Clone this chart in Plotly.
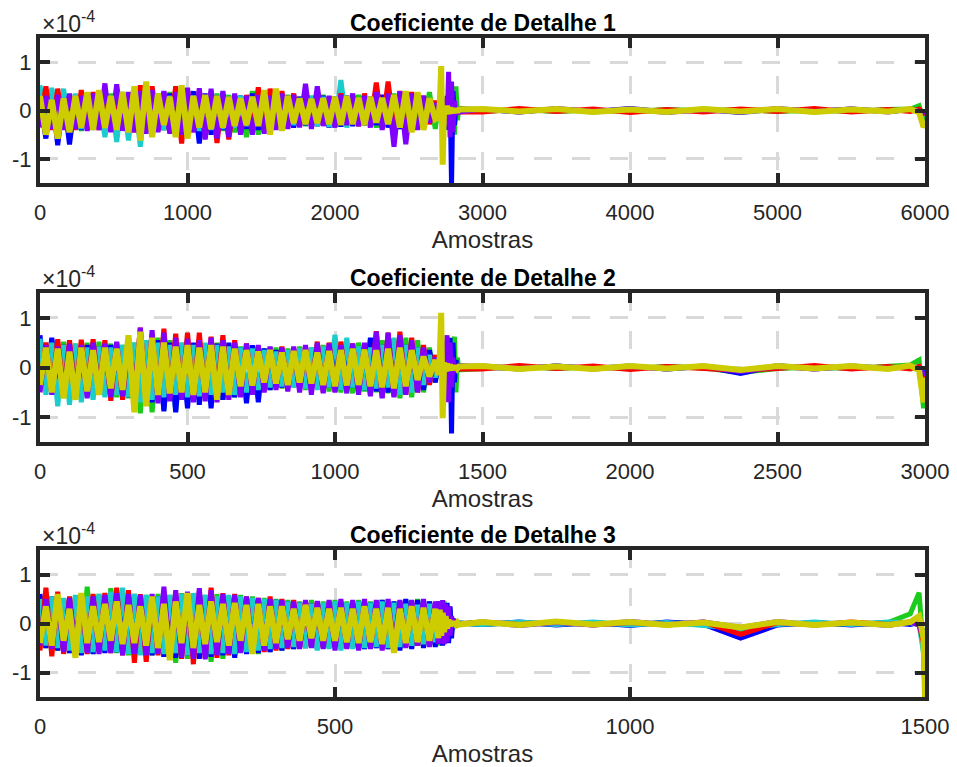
import numpy as np
import plotly.graph_objects as go

# ---------------- data (values in units of 1e-4, stored as hundredths) ----------------
# sample grid of each subplot: dense block, spike block, flat block, end block
GRID_STEPS_1 = dict(noise=(0, 40, 68), spike=(2700, 10, 15), flat=(3000, 250, 12), end=[5900, 5960, 5990, 6000])
GRID_STEPS_2 = dict(noise=(0, 20, 68), spike=(1350, 5, 15), flat=(1500, 125, 12), end=[2950, 2980, 2995, 3000])
GRID_STEPS_3 = dict(noise=(0, 10, 68), spike=(675, 2.5, 15), flat=(750, 62.5, 12), end=[1475, 1490, 1497.5, 1500])

X_RANGES = [6000, 3000, 1500]
X_TICKS = [[0, 1000, 2000, 3000, 4000, 5000, 6000],
           [0, 500, 1000, 1500, 2000, 2500, 3000],
           [0, 500, 1000, 1500]]
Y_TICKS = [-1, 0, 1]
TITLES = ["Coeficiente de Detalhe 1", "Coeficiente de Detalhe 2", "Coeficiente de Detalhe 3"]
X_LABEL = "Amostras"

# ---- Detail 1 ----
D1_BLUE = [20,-58,35,-72,30,-70,25,-40,30,-38,
           35,-42,28,-45,30,-40,35,-50,40,-45,
           30,-40,35,-50,30,-55,40,-68,35,-50,
           30,-40,28,-35,30,-38,35,-40,30,-35,
           25,-38,30,-35,28,-30,25,-32,30,-35,
           28,-33,30,-32,25,-30,28,-30,32,-35,
           30,-38,35,-40,30,-33,25,-20,
           10,-8,10,-10,15,-20,30,-40,45,-155,40,-30,8,-5,3,
           2,-3,3,-2,4,-3,2,-4,3,-2,3,-2,
           2,-3,-5,-3]
D1_RED = [-30,50,-40,45,-35,30,-40,42,-35,38,
          -40,35,-42,38,-40,30,-45,52,-40,50,
          -42,38,-45,50,-68,42,-45,40,-55,38,
          -67,35,-60,30,-50,32,-40,48,-38,45,
          -35,40,-30,35,-32,30,-28,32,-30,28,
          -30,35,-28,30,-32,35,-30,58,-35,60,
          -38,40,-42,38,-35,30,-28,20,
          -10,8,-12,15,-20,25,-30,35,-20,10,-8,6,-5,4,-3,
          -3,4,-2,3,-4,2,-3,3,-2,4,-3,2,
          -2,3,-6,-4]
D1_CYAN = [52,-30,47,-35,45,-40,35,-38,30,-40,
           35,-55,30,-65,32,-62,38,-75,40,-48,
           35,-40,30,-45,35,-40,30,-42,28,-40,
           30,-38,28,-35,30,-32,28,-30,32,-35,
           30,-35,28,-30,25,-28,30,-32,28,-30,
           -30,63,-35,30,-32,28,-30,25,-32,30,
           -30,28,-32,30,-25,22,-18,12,
           8,-6,5,-8,10,-12,15,-10,8,-6,5,-4,3,-3,2,
           2,-2,3,-3,2,-2,3,-2,2,-3,2,-2,
           2,-2,-8,-6]
D1_PURPLE = [-35,30,-38,32,-40,35,-38,30,-42,35,
             -40,56,-45,54,-42,38,-45,40,-48,42,
             -45,40,-48,38,-50,47,-45,46,-60,45,
             -58,40,-55,35,-50,30,-50,32,-48,30,
             -40,35,-38,32,-35,55,-38,50,-32,30,
             -35,32,-30,35,-32,30,-35,38,-40,35,
             -75,40,-70,35,-40,30,-25,15,
             -10,12,-15,18,-20,25,-30,80,-55,60,-45,20,-10,5,-3,
             3,-3,4,-2,3,-4,2,-3,4,-2,3,-3,
             3,-2,-6,-5]
D1_GREEN = [45,-35,38,-40,35,-38,30,-42,35,-38,
            32,-40,35,-42,38,-40,35,-45,38,-42,
            35,-40,38,-42,35,-40,32,-38,30,-40,
            35,-42,32,-45,30,-55,40,-50,35,-40,
            30,-35,32,-30,28,-32,30,-28,32,-30,
            28,-32,30,-28,32,-30,28,-35,30,-32,
            35,-38,32,-35,30,-32,38,-38,
            10,-10,12,-12,15,-18,20,-25,30,-35,40,-50,50,-20,5,
            -2,2,-2,1,-2,2,-1,2,-2,1,-2,2,
            3,10,-20,-10]
D1_YELLOW = [30,-50,22,-58,25,-45,30,-35,38,-40,
             42,-36,30,-40,38,-45,50,-62,60,-55,
             35,-30,28,-55,52,-58,30,-35,32,-38,
             30,-35,28,-32,25,-30,28,-32,42,-50,
             45,-42,30,-26,25,-28,24,-26,25,-28,
             28,-30,30,-28,26,-30,28,-25,26,-28,
             32,-35,40,-45,38,-40,25,-18,
             -15,12,92,-112,10,-8,10,-7,6,-5,4,-4,3,-3,2,
             3,-2,3,-3,2,-3,3,-2,3,-3,2,-2,
             3,-4,-34,-30]

# ---- Detail 2 ----
D2_BLUE = [65,-45,60,-50,45,-55,40,-50,45,-52,
           42,-55,45,-50,40,-60,45,-65,50,-70,
           55,-88,50,-90,45,-82,50,-75,45,-82,
           48,-65,50,-60,40,-72,45,-70,38,-45,
           35,-40,32,-38,35,-40,30,-38,32,-40,
           35,-42,38,-40,35,-45,60,-48,45,-50,
           42,-52,45,-48,40,-45,35,-30,
           10,-10,12,-15,20,-25,30,-40,60,-133,50,-30,15,-8,4,
           2,-3,3,-2,3,-3,2,-12,4,-3,2,-2,
           3,-4,-10,-6]
D2_RED = [-45,50,-48,57,-50,55,-52,56,-48,57,
          -50,55,-67,50,-65,52,-55,80,-60,65,
          -62,78,-60,68,-58,70,-62,70,-60,62,
          -55,65,-60,55,-50,48,-45,42,-40,40,
          -38,42,-40,38,-42,40,-45,52,-50,50,
          -48,52,-45,48,-50,45,-55,73,-60,70,
          -58,72,-55,60,-50,45,-35,25,
          -10,8,-12,15,-20,25,-30,35,-20,10,-8,6,-5,4,-3,
          -3,4,-2,3,-4,2,-3,-6,-2,4,-3,2,
          -3,2,-20,-10]
D2_CYAN = [58,-55,50,-78,45,-75,48,-70,40,-65,
           42,-60,40,-55,45,-60,50,-70,55,-65,
           50,-60,45,-55,50,-60,45,-58,50,-55,
           45,-50,42,-55,40,-50,38,-45,35,-40,
           32,-38,35,-40,38,-42,40,-45,42,-40,
           66,-45,60,-40,42,-45,40,-42,45,-40,
           60,-55,45,-50,40,-35,25,-20,
           8,-6,5,-8,10,-12,15,-10,8,-6,5,-4,3,-3,2,
           2,-3,3,-2,3,-3,2,-6,3,-2,3,-2,
           2,-3,-30,-15]
D2_PURPLE = [-50,45,-55,42,-60,48,-58,45,-62,50,
             -55,48,-60,52,-58,50,-65,80,-70,75,
             -72,70,-68,60,-65,58,-70,55,-68,60,
             -70,55,-65,50,-60,48,-55,45,-50,42,
             -45,40,-48,42,-50,45,-55,50,-52,48,
             -50,45,-52,48,-55,50,-58,72,-62,70,
             -60,65,-55,55,-50,40,-30,20,
             -10,12,-15,18,-20,25,65,-70,50,-40,20,-10,5,-3,2,
             3,-2,3,-3,2,-3,3,-8,2,-3,3,-2,
             3,-3,-15,-8]
D2_GREEN = [50,-45,55,-50,52,-55,48,-60,50,-58,
            52,-55,48,-60,45,-62,50,-92,55,-90,
            60,-85,55,-88,50,-70,45,-65,48,-60,
            50,-65,45,-60,42,-55,40,-50,38,-45,
            40,-42,38,-40,42,-45,40,-42,45,-48,
            48,-50,45,-52,50,-48,52,-50,55,-52,
            58,-62,60,-60,55,-50,40,-30,
            10,-10,12,-12,15,-18,20,-25,30,-35,40,62,-50,20,-5,
            -2,2,-2,1,-2,2,-1,-10,-2,1,-2,2,
            5,15,-82,-30]
D2_YELLOW = [-35,40,-50,38,-62,32,-65,40,-48,35,
             -55,40,-42,38,-45,65,-90,72,-78,60,
             -55,50,-52,42,-50,45,-55,40,-50,45,
             -65,42,-55,38,-38,35,-36,32,-30,35,
             -32,30,-35,33,-30,35,-32,30,-35,33,
             -38,35,-36,38,-35,36,-38,35,-40,38,
             -42,40,-38,35,-25,22,-18,15,
             -15,20,110,-102,10,-8,8,-6,6,-5,4,-4,3,-2,2,
             3,-3,2,-3,3,-2,3,-5,3,-2,3,-3,
             4,-6,-70,-20]

# ---- Detail 3 ----
D3_BLUE = [60,-50,55,-55,50,-60,45,-65,50,-62,
           55,-60,50,-58,55,-60,52,-62,50,-65,
           55,-68,50,-70,58,-65,55,-72,52,-68,
           50,-65,52,-70,48,-62,50,-60,45,-58,
           48,-55,45,-52,42,-50,40,-52,38,-48,
           42,-50,40,-48,45,-52,42,-50,48,-52,
           45,-55,50,-52,48,-50,45,-48,
           45,-40,42,-45,40,-38,42,-40,35,-30,10,-5,3,-2,1,
           -2,3,-3,2,-4,3,-2,-30,-3,2,-3,2,
           -2,3,-20,-60]
D3_RED = [-55,73,-67,65,-62,55,-60,58,-62,60,
          -58,62,-60,73,-65,68,-80,60,-78,55,
          -65,60,-70,62,-72,60,-83,65,-70,73,
          -70,62,-65,60,-58,55,-60,52,-58,55,
          -55,50,-52,48,-50,45,-48,45,-50,45,
          -48,44,-50,42,-52,40,-48,42,-50,40,
          -52,45,-48,42,-45,40,-42,38,
          -35,30,-32,28,-25,20,-15,10,-6,4,-2,2,-1,1,-1,
          3,-2,3,-3,2,-3,3,-22,2,-3,3,-2,
          3,-2,-40,-120]
D3_CYAN = [50,-45,55,-50,52,-55,58,-60,55,-58,
           60,-55,65,-58,73,-62,60,-65,58,-60,
           55,-62,58,-60,60,-65,62,-60,58,-62,
           55,-60,58,-62,55,-58,52,-55,50,-52,
           48,-50,45,-48,42,-50,40,-55,42,-52,
           45,-55,42,-52,45,-50,42,-48,45,-50,
           42,-48,40,-45,38,-42,40,-38,
           30,-28,25,-22,18,-15,12,-8,5,-3,2,-2,1,-1,1,
           -2,3,-2,3,-3,2,-3,-10,-2,3,-2,3,
           2,-3,-60,-145]
D3_PURPLE = [-45,50,-52,55,-58,52,-55,58,-60,55,
             -62,58,-60,62,-65,60,-62,58,-65,60,
             -62,75,-65,68,-70,65,-72,72,-73,68,
             -65,60,-62,58,-60,55,-58,52,-55,50,
             -52,48,-50,45,-52,48,-50,46,-52,48,
             -55,50,-52,48,-55,50,-52,48,-55,50,
             -52,48,-50,48,-45,50,-48,45,
             -42,45,-40,48,-42,40,-38,35,-25,15,-6,3,-2,1,-1,
             3,-4,2,-3,4,-2,3,-8,4,-3,2,-4,
             3,-3,-30,-100]
D3_GREEN = [55,-50,52,-55,50,-60,55,-58,75,-62,
            60,-58,72,-60,62,-65,60,-62,58,-65,
            60,-68,58,-80,62,-72,60,-70,58,-78,
            60,-72,55,-65,58,-60,55,-62,52,-58,
            50,-55,48,-52,45,-50,48,-52,45,-50,
            48,-52,45,-50,48,-52,45,-50,48,-52,
            45,-50,48,-45,50,-48,45,-42,
            40,-45,38,-42,45,-40,35,-38,30,-20,8,-4,2,-1,1,
            -2,2,-2,1,-2,2,-1,-18,-2,1,-2,2,
            20,63,-60,-140]
D3_YELLOW = [-40,35,-45,60,-35,30,-70,62,-40,35,
             -38,40,-35,45,-42,38,-40,35,-45,55,
             -50,40,-75,45,-40,62,-50,38,-42,45,
             -38,40,-45,42,-35,38,-62,40,-45,35,
             -40,35,-32,30,-35,38,-30,32,-35,30,
             -35,32,-38,30,-40,35,-38,30,-42,32,
             -60,30,-40,35,-38,32,-35,30,
             -30,28,-25,22,-18,15,-10,8,-5,4,-3,3,-2,2,-2,
             3,-3,4,-2,3,-3,2,-8,3,-3,2,-3,
             3,15,-30,-150]

# drawing order (bottom to top)
SERIES_NAMES = ["green", "blue", "cyan", "red", "purple", "yellow"]
COLORS = {"blue": "#0000ff", "red": "#ff0000", "cyan": "#1ccccc",
          "purple": "#7f00ff", "green": "#1ccc1c", "yellow": "#cccc00"}
WIDTHS = {"blue": 5, "red": 5, "cyan": 5, "purple": 5, "green": 5, "yellow": 6}
SUBPLOT_DATA = [
    dict(blue=D1_BLUE, red=D1_RED, cyan=D1_CYAN, purple=D1_PURPLE, green=D1_GREEN, yellow=D1_YELLOW),
    dict(blue=D2_BLUE, red=D2_RED, cyan=D2_CYAN, purple=D2_PURPLE, green=D2_GREEN, yellow=D2_YELLOW),
    dict(blue=D3_BLUE, red=D3_RED, cyan=D3_CYAN, purple=D3_PURPLE, green=D3_GREEN, yellow=D3_YELLOW),
]
GRIDS = [GRID_STEPS_1, GRID_STEPS_2, GRID_STEPS_3]


def sample_grid(g):
    parts = []
    for key in ("noise", "spike", "flat"):
        start, step, n = g[key]
        parts.append(start + step * np.arange(n))
    parts.append(np.array(g["end"], dtype=float))
    return np.concatenate(parts)


# ---------------- layout geometry ----------------
W, H = 957, 767
M_T, M_B, M_L, M_R = 38, 70, 40, 32
PH = H - M_T - M_B
tops = [38, 293, 550]
bottoms = [183, 442, 697]
domains = [[(H - M_B - b) / PH, (H - M_B - t) / PH] for t, b in zip(tops, bottoms)]

FONT = "Liberation Sans, Arial, Helvetica, sans-serif"
AXC = "#262626"

fig = go.Figure()
for k in range(3):
    xs = sample_grid(GRIDS[k])
    sfx = "" if k == 0 else str(k + 1)
    for name in SERIES_NAMES:
        vals = SUBPLOT_DATA[k][name]
        assert len(vals) == len(xs), (k, name, len(vals), len(xs))
        fig.add_trace(go.Scatter(
            x=xs, y=np.array(vals) / 100.0, mode="lines",
            line=dict(color=COLORS[name], width=WIDTHS[name]),
            xaxis="x" + sfx, yaxis="y" + sfx, showlegend=False,
            hoverinfo="skip"))

layout = dict(
    width=W, height=H, margin=dict(l=M_L, r=M_R, t=M_T, b=M_B),
    paper_bgcolor="white", plot_bgcolor="white",
    font=dict(family=FONT, color=AXC, size=22),
    showlegend=False,
)
annotations = []
for k in range(3):
    sfx = "" if k == 0 else str(k + 1)
    layout["xaxis" + sfx] = dict(
        domain=[0, 1], anchor="y" + sfx, range=[0, X_RANGES[k]],
        tickvals=X_TICKS[k], ticktext=[str(v) for v in X_TICKS[k]],
        showgrid=True, gridcolor="#d9d9d9", gridwidth=3, griddash="18px,20px",
        zeroline=False, showline=True, linecolor=AXC, linewidth=4, mirror="ticks",
        ticks="inside", ticklen=10, tickwidth=4, tickcolor=AXC,
        tickfont=dict(size=22, family=FONT, color=AXC),
        ticklabelstandoff=7,
        title=dict(text=X_LABEL, font=dict(size=24, family=FONT, color=AXC), standoff=8),
        automargin=False,
    )
    layout["yaxis" + sfx] = dict(
        domain=domains[k], anchor="x" + sfx, range=[-1.5, 1.5],
        tickvals=Y_TICKS, ticktext=["-1", "0", "1"],
        showgrid=True, gridcolor="#d9d9d9", gridwidth=3, griddash="18px,20px",
        zeroline=False, showline=True, linecolor=AXC, linewidth=4, mirror="ticks",
        ticks="inside", ticklen=10, tickwidth=4, tickcolor=AXC,
        tickfont=dict(size=22, family=FONT, color=AXC),
        ticklabelstandoff=0, automargin=False,
    )
    annotations.append(dict(
        text="<b>" + TITLES[k] + "</b>", x=0.5, y=domains[k][1], xref="paper", yref="paper",
        xanchor="center", yanchor="bottom", showarrow=False, yshift=0,
        font=dict(size=23, family=FONT, color="black")))
    annotations.append(dict(
        text="×10<sup>-4</sup>", x=0, y=domains[k][1], xref="paper", yref="paper",
        xanchor="left", yanchor="bottom", showarrow=False, yshift=-1,
        font=dict(size=23, family=FONT, color=AXC)))
layout["annotations"] = annotations
fig.update_layout(**layout)
fig.write_html("out.html", config={"displayModeBar": False},
               post_script="document.body.style.margin='0px';")
